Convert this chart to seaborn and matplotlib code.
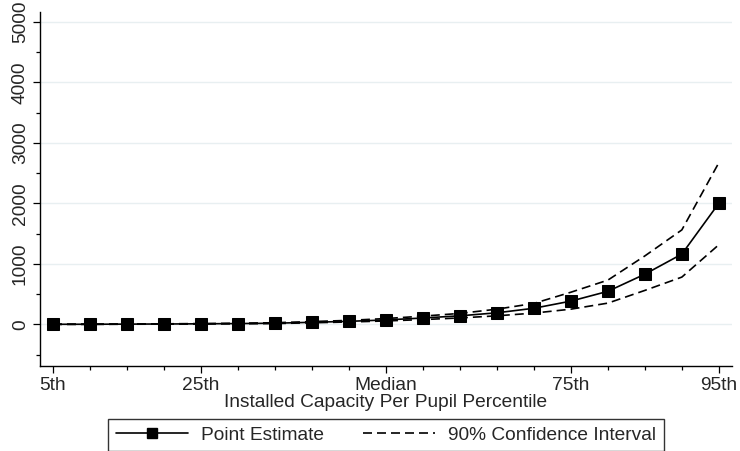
import numpy as np
import pandas as pd
import matplotlib
matplotlib.use("Agg")
import matplotlib.pyplot as plt
from matplotlib.lines import Line2D
from matplotlib.ticker import FixedLocator
import seaborn as sns

# percentile grid and estimates
pct = [5, 10, 15, 20, 25, 30, 35, 40, 45, 50, 55, 60, 65, 70, 75, 80, 85, 90, 95]
point = [0, 1, 3, 5, 8, 12, 18, 33, 49, 72, 104, 140, 190, 265, 383, 545, 828, 1160, 2000]
upper = [2, 3, 5, 8, 12, 18, 26, 45, 65, 95, 135, 180, 250, 345, 530, 730, 1130, 1560, 2670]
lower = [-2, -2, 1, 3, 5, 8, 12, 25, 38, 55, 78, 105, 140, 185, 250, 350, 560, 780, 1315]

tick_pos = [5, 25, 50, 75, 95]
tick_lab = ["5th", "25th", "Median", "75th", "95th"]

df = pd.DataFrame({"pct": pct, "point": point, "upper": upper, "lower": lower})

sns.set_style("white")
plt.rcParams["font.family"] = ["Liberation Sans", "DejaVu Sans"]
plt.rcParams["font.size"] = 13.8

fig = plt.figure(figsize=(7.4, 4.51), dpi=100)
ax = fig.add_axes([0.054, 0.1885, 0.935, 0.785])

dash = (5.4, 3.0)
sns.lineplot(data=df, x="pct", y="upper", ax=ax, color="black", lw=1.2,
             linestyle=(0, dash))
sns.lineplot(data=df, x="pct", y="lower", ax=ax, color="black", lw=1.2,
             linestyle=(0, dash))
sns.lineplot(data=df, x="pct", y="point", ax=ax, color="black", lw=1.2,
             marker="s", markersize=8, markeredgecolor="black")

ax.set_xlim(3.24, 96.76)
ax.set_ylim(-689, 5162)
ax.set_xticks(tick_pos)
ax.set_xticklabels(tick_lab)
ax.xaxis.set_minor_locator(FixedLocator([p for p in pct if p not in tick_pos]))
ax.set_yticks(range(0, 5001, 1000))
ax.yaxis.set_minor_locator(FixedLocator(range(-500, 5000, 1000)))
for lab in ax.get_yticklabels():
    lab.set_rotation(90)
    lab.set_va("center")

ax.tick_params(which="major", length=5, width=0.9, color="black", direction="out", pad=3)
ax.tick_params(which="minor", length=3, width=0.9, color="black", direction="out")
ax.tick_params(axis="x", which="both", bottom=True)
ax.tick_params(axis="y", which="both", left=True)
ax.grid(axis="y", which="major", color="#e8eff1", lw=1.0)
ax.set_axisbelow(True)

sns.despine(ax=ax)
for s in ["left", "bottom"]:
    ax.spines[s].set_color("black")
    ax.spines[s].set_linewidth(1.0)

ax.set_xlabel("Installed Capacity Per Pupil Percentile", labelpad=0)
ax.set_ylabel("")

handles = [
    Line2D([], [], color="black", lw=1.2, marker="s", markersize=7.5),
    Line2D([], [], color="black", lw=1.2, linestyle=(0, dash)),
]
leg = fig.legend(handles, ["Point Estimate", "90% Confidence Interval"],
                 loc="center", bbox_to_anchor=(0.5216, 0.0355), ncol=2,
                 frameon=True, fancybox=False, handlelength=3.75,
                 columnspacing=2.0, borderpad=0.4, handletextpad=0.7,
                 borderaxespad=0)
leg.get_frame().set_edgecolor("black")
leg.get_frame().set_linewidth(1.0)

fig.savefig("out.png", dpi=100)
